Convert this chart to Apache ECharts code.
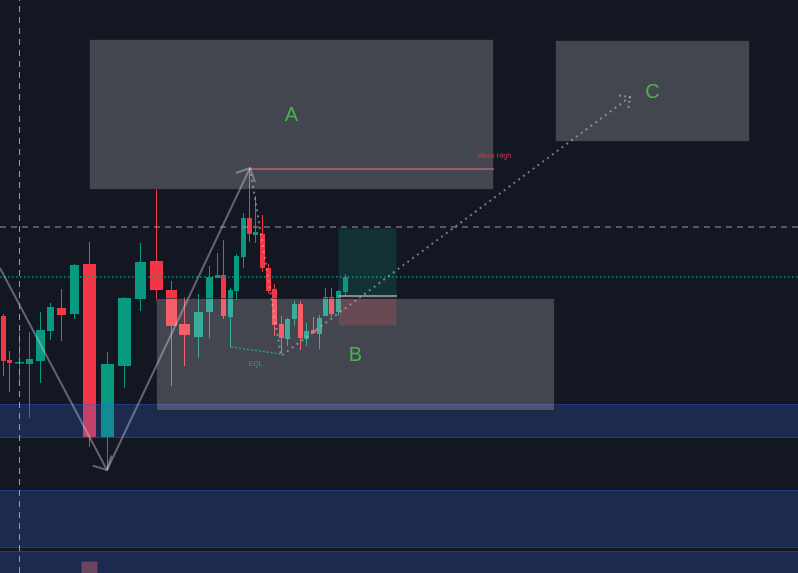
<!DOCTYPE html>
<html><head><meta charset="utf-8">
<script src="https://cdn.jsdelivr.net/npm/echarts@6/dist/echarts.min.js"></script>
<style>html,body{margin:0;padding:0;background:#131722;overflow:hidden}#c{width:798px;height:573px}</style>
</head><body><div id="c"></div>
<script>
// ---- data (time units on x, price units on y) ----
const candleTime = [3.5,9.5,19.5,29.5,40.5,50.5,61.5,74.5,89.5,107.5,124.5,140.5,156.5,171.5,184.5,198.5,209.5,217.5,223.5,230.5,236.5,243.5,249.5,255.5,262.5,268.5,274.5,281.5,287.5,294.5,300.5,306.5,313.5,319.5,325.5,331.5,338.5,345.5];
const candleDuration = [5,5,9,7,9,7,9,9,13,13,13,11,13,11,11,9,7,5,5,5,5,5,5,5,5,5,5,5,5,5,5,5,5,5,5,5,5,5];
const opens  = [257,213,211,209,212,242,265,259,309,136,207,274,312,283,249,236,261,295,298,256,282,316,355,338,339,305,284,249,234,254,269,234,243,239,257,276,261,281];
const closes = [212,210,211,214,243,266,258,308,136,209,275,311,283,247,238,261,296,298,257,283,317,355,339,341,305,282,248,235,254,269,235,242,240,255,276,259,282,296];
const lows   = [197,181,192,155,190,233,232,254,126,103,185,262,271,187,207,215,235,295,254,226,273,305,331,330,301,280,237,220,227,247,223,227,239,224,257,256,258,277];
const highs  = [259,222,241,241,261,270,284,309,331,221,276,330,384,292,276,279,307,320,333,285,319,360,404,377,358,309,289,257,255,272,272,250,256,258,285,285,283,299];

// zones: [timeStart, timeEnd, priceTop, priceBottom]
const zoneNames = ['A','C','B'];
const supplyZones = [[89,494,534,383],[555,750,533,431],[156,555,275,162]];
const liquidityZones = [[-5,803,169,135],[-5,803,83,25],[-5,803,22,-10]];
const targetZone = [[338,397,345,277]];
const stopZone = [[338,397,277,247]];
const markerZone = [[81,98,12,-10]];

const weakHigh = {price:404, from:250, to:494};
const crosshair = {time:19.5, price:346};
const liquidityPrice = 296;
const entry = {price:277, from:338, to:397};

const impulsePath = [[0,305],[107,103],[250,405]];
const projectionPath = [[250,405],[281,217],[630,476]];
const eqlPath = [[231,226],[281,219]];

const textLabels = [{text:'Weak High', at:[494,417]}, {text:'EQL', at:[255.5,208.5]}];

// ---- rendering ----
const GREEN = '#089981', RED = '#f23645';
const chart = echarts.init(document.getElementById('c'), null, {renderer:'canvas'});

const candleData = candleTime.map((t,i)=>[t, opens[i], closes[i], lows[i], highs[i], candleDuration[i]]);

function rectRender(fill, stroke, names){
  return function(params, api){
    const a = api.coord([api.value(0), api.value(2)]);
    const b = api.coord([api.value(1), api.value(3)]);
    const x = Math.round(a[0]), y = Math.round(a[1]);
    const w = Math.round(b[0]) - x, h = Math.round(b[1]) - y;
    const children = [{type:'rect', shape:{x:x+0.5, y:y+0.5, width:w-1, height:h-1},
      style:{fill:fill, stroke:stroke||null, lineWidth:stroke?1:0}}];
    if (names) {
      children.push({type:'text', x:x+w/2, y:y+h/2+1,
        style:{text:names[params.dataIndex], fill:'#4caf50', font:'20px "Liberation Sans", Arial, sans-serif',
          align:'center', verticalAlign:'middle'}});
    }
    return {type:'group', children};
  };
}

function arrowRender(len, dash){
  return function(params, api){
    const p0 = api.coord([api.value(0), api.value(1)]);
    const p1 = api.coord([api.value(2), api.value(3)]);
    const ang = Math.atan2(p0[1]-p1[1], p0[0]-p1[0]);
    const w1 = [p1[0]+len*Math.cos(ang+Math.PI/4), p1[1]+len*Math.sin(ang+Math.PI/4)];
    const w2 = [p1[0]+len*Math.cos(ang-Math.PI/4), p1[1]+len*Math.sin(ang-Math.PI/4)];
    return {type:'polyline', shape:{points:[w1, p1, w2]},
      style:{stroke: dash ? 'rgba(185,188,198,0.6)' : 'rgba(205,208,216,0.42)', lineWidth:2, fill:null, lineDash: dash||null}};
  };
}

function segs(path){ const out=[]; for(let i=1;i<path.length;i++) out.push([path[i-1][0],path[i-1][1],path[i][0],path[i][1]]); return out; }

function lineSeries(data, style, z){
  return {type:'line', data, showSymbol:false, silent:true, animation:false, z:z||5,
    lineStyle:style, emphasis:{disabled:true}};
}

const option = {
  backgroundColor:'#131722',
  animation:false,
  grid:{left:0,right:0,top:0,bottom:0},
  xAxis:{type:'value', min:0, max:798, show:false},
  yAxis:{type:'value', min:0, max:573, show:false},
  series:[
    {type:'custom', z:1, silent:true, data:candleData, clip:false,
      renderItem(params, api){
        const t=api.value(0), o=api.value(1), c=api.value(2), l=api.value(3), h=api.value(4), d=api.value(5);
        const pO=api.coord([t,o]), pC=api.coord([t,c]), pL=api.coord([t,l]), pH=api.coord([t,h]);
        const half = api.size([d,0])[0]/2;
        const col = c>=o ? GREEN : RED;
        const top = Math.min(pO[1],pC[1]);
        return {type:'group', children:[
          {type:'rect', shape:{x:pH[0]-0.5, y:pH[1], width:1, height:pL[1]-pH[1]}, style:{fill:col}},
          {type:'rect', shape:{x:pO[0]-half, y:Math.round(top), width:half*2, height:Math.max(1.5, Math.round(Math.abs(pO[1]-pC[1])))}, style:{fill:col}}
        ]};
      }},
    {type:'custom', z:3, silent:true, data:liquidityZones, renderItem:rectRender('rgba(51,99,210,0.25)','rgba(45,95,220,0.45)')},
    {type:'custom', z:4, silent:true, data:markerZone, renderItem:rectRender('#6b4460')},
    {type:'custom', z:3, silent:true, data:targetZone, renderItem:rectRender('rgba(8,153,129,0.2)')},
    {type:'custom', z:3, silent:true, data:stopZone, renderItem:rectRender('rgba(242,54,69,0.2)')},
    {type:'custom', z:4, silent:true, data:supplyZones, renderItem:rectRender('rgba(255,255,255,0.205)','rgba(14,17,26,0.55)', zoneNames)},
    // horizontal & vertical guides
    lineSeries([[weakHigh.from,weakHigh.price],[weakHigh.to,weakHigh.price]], {color:'#f0707c', width:1.2}, 6),
    lineSeries([[entry.from,entry.price],[entry.to,entry.price]], {color:'#a7aab3', width:1.5}, 6),
    lineSeries([[0,liquidityPrice],[798,liquidityPrice]], {color:'#089981', width:1.5, type:[1.5,2.5]}, 6),
    lineSeries([[0,crosshair.price],[798,crosshair.price]], {color:'#9a9da6', width:1, type:[6,5]}, 7),
    lineSeries([[crosshair.time,0],[crosshair.time,573]], {color:'#9a9da6', width:1, type:[6,5]}, 7),
    // drawings
    lineSeries(impulsePath, {color:'rgba(205,208,216,0.42)', width:2}, 6),
    {type:'custom', z:6, silent:true, data:segs(impulsePath), renderItem:arrowRender(15)},
    lineSeries(projectionPath, {color:'rgba(185,188,198,0.6)', width:2, type:[2,4]}, 6),
    {type:'custom', z:6, silent:true, data:segs(projectionPath).slice(-1), renderItem:arrowRender(11,[2,3])},
    lineSeries(eqlPath, {color:'#2a9d8c', width:1.5, type:[2,2]}, 6),
    {type:'custom', z:8, silent:true, data:textLabels.map(d=>[d.at[0], d.at[1]]),
      renderItem(params, api){
        const p = api.coord([api.value(0), api.value(1)]);
        const lab = textLabels[params.dataIndex];
        return {type:'text', x:p[0], y:p[1], style:{text:lab.text,
          fill: lab.text==='EQL' ? '#2f9e8d' : '#d0384a',
          font:'7px "Liberation Sans", Arial, sans-serif', align:'center', verticalAlign:'middle'}};
      }}
  ]
};
chart.setOption(option);
</script>
</body></html>
